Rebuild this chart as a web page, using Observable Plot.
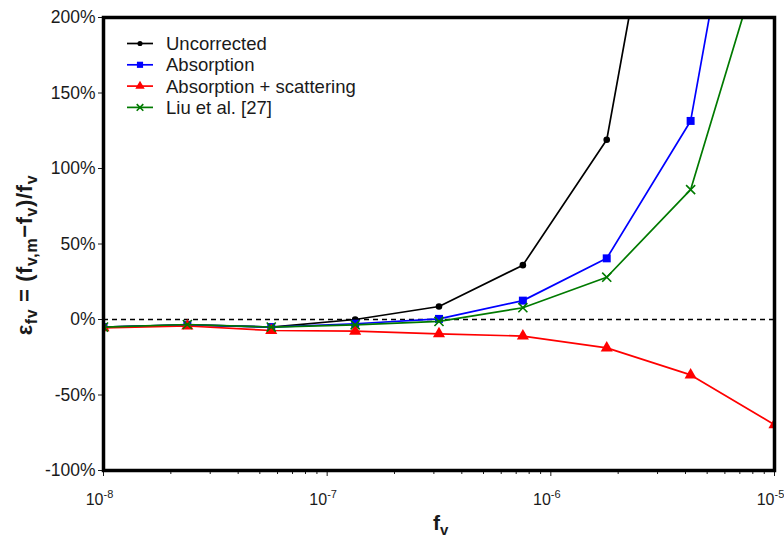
<!DOCTYPE html>
<html>
<head>
<meta charset="utf-8">
<script src="https://cdn.jsdelivr.net/npm/d3@7"></script>
<script src="https://cdn.jsdelivr.net/npm/@observablehq/plot@0.6"></script>
<style>
  html, body { margin: 0; padding: 0; background: #fff; }
  #chart { width: 784px; height: 538px; }
</style>
</head>
<body>
<div id="chart"></div>
<script>
// ---- data ----
const fv = [1e-8, 2.371e-8, 5.623e-8, 1.334e-7, 3.162e-7, 7.499e-7, 1.778e-6, 4.217e-6, 1e-5];
const uncorrected   = [-5.0, -3.5, -5.0, 0.0, 8.6, 36.0, 119.0, 425.0, 1100.0];
const absorption    = [-5.0, -3.5, -5.0, -2.8, 0.4, 12.5, 40.5, 131.5, 440.0];
const absScattering = [-5.5, -4.3, -7.3, -7.7, -9.5, -11.0, -18.8, -36.7, -69.7];
const liu           = [-5.0, -3.3, -5.0, -3.5, -1.3, 7.8, 28.0, 86.0, 270.0];
const seriesNames = ["Uncorrected", "Absorption", "Absorption + scattering", "Liu et al. [27]"];
const yTicks = [-100, -50, 0, 50, 100, 150, 200];
const xMajorTicks = [1e-8, 1e-7, 1e-6, 1e-5];
const xMajorExponents = ["-8", "-7", "-6", "-5"];
const xMinorTicks = [2e-8,3e-8,4e-8,5e-8,6e-8,7e-8,8e-8,9e-8,
                     2e-7,3e-7,4e-7,5e-7,6e-7,7e-7,8e-7,9e-7,
                     2e-6,3e-6,4e-6,5e-6,6e-6,7e-6,8e-6,9e-6];

// ---- styles ----
const FONT = "'Liberation Sans', Arial, sans-serif";
const styles = [
  {color: "#000000", symbol: "circle",   r: 3.3, filled: true},
  {color: "#0000ff", symbol: "square",   r: 4.5, filled: true},
  {color: "#ff0000", symbol: "triangle", r: 4.5, filled: true},
  {color: "#007a00", symbol: "times",    r: 4.2, filled: false}
];
const valuesBySeries = [uncorrected, absorption, absScattering, liu];

const marks = [Plot.ruleY([0], {stroke: "#000", strokeWidth: 1.6, strokeDasharray: "5,4"})];
valuesBySeries.forEach((vals, i) => {
  const rows = fv.map((x, j) => ({x, y: vals[j]}));
  const s = styles[i];
  marks.push(Plot.line(rows, {x: "x", y: "y", stroke: s.color, strokeWidth: 1.7, clip: true}));
  marks.push(Plot.dot(rows, s.filled
    ? {x: "x", y: "y", symbol: () => s.symbol, fill: s.color, stroke: "none", r: s.r, clip: true}
    : {x: "x", y: "y", symbol: () => s.symbol, stroke: s.color, strokeWidth: 1.6, fill: "none", r: s.r, clip: true}));
});
marks.push(Plot.axisY({ticks: yTicks, tickFormat: d => d + "%", tickSize: 5, tickPadding: 3, label: null, fontSize: 17.5}));
marks.push(Plot.axisX({ticks: xMinorTicks, tickFormat: () => null, tickSize: 4, label: null}));
marks.push(Plot.axisX({ticks: xMajorTicks, tickFormat: () => null, tickSize: 6, label: null}));
// x tick labels "10" + superscript exponent, through the x scale
marks.push(Plot.text(xMajorTicks, {x: d => d, frameAnchor: "bottom", text: () => "10",
  textAnchor: "end", lineAnchor: "bottom", dx: 0, dy: 34, fontSize: 16, fill: "#1a1a1a"}));
marks.push(Plot.text(xMajorTicks, {x: d => d, frameAnchor: "bottom", text: (d, i) => xMajorExponents[i],
  textAnchor: "start", lineAnchor: "bottom", dx: 0, dy: 27, fontSize: 11, fill: "#1a1a1a"}));
marks.push(Plot.frame({stroke: "#000", strokeWidth: 3.5}));

const chart = Plot.plot({
  width: 784, height: 538,
  marginLeft: 103, marginRight: 10, marginTop: 17, marginBottom: 68,
  style: {fontFamily: FONT, fontSize: "16px", color: "#1a1a1a", background: "#fff"},
  x: {type: "log", domain: [1e-8, 1e-5]},
  y: {domain: [-100, 200]},
  marks
});
document.getElementById("chart").appendChild(chart);

const svg = d3.select(chart);
svg.selectAll("text").filter(function() { return !this.textContent; }).remove();

// rich text with subscripts (no empty spacer tspans)
function rich(sel, parts, base, small, shift) {
  let pending = 0;
  parts.forEach(([txt, kind]) => {
    const sub = kind === "sub";
    const dy = (sub ? shift : 0) - pending;
    const ts = sel.append("tspan").attr("font-size", sub ? small : base).text(txt);
    if (dy) ts.attr("dy", dy);
    pending = sub ? shift : 0;
  });
}

// y-axis title
const yl = svg.append("text")
  .attr("transform", "translate(32,255) rotate(-90)")
  .attr("text-anchor", "middle")
  .attr("font-weight", "bold")
  .attr("font-family", FONT)
  .attr("letter-spacing", 0.6)
  .attr("fill", "#1a1a1a");
rich(yl, [["\u03b5", "n"], ["fv", "sub"], [" = (f", "n"], ["v,m", "sub"], ["\u2212f", "n"], ["v", "sub"], [")/f", "n"], ["v", "sub"]], 22, 16, 4.5);

// x-axis title
const xl = svg.append("text")
  .attr("x", 433).attr("y", 530)
  .attr("text-anchor", "start")
  .attr("font-weight", "bold")
  .attr("font-family", FONT)
  .attr("fill", "#1a1a1a");
rich(xl, [["f", "n"], ["v", "sub"]], 21, 15, 5);

// legend
const lg = svg.append("g").attr("font-family", FONT).attr("font-size", 18.5).attr("text-anchor", "start");
seriesNames.forEach((name, i) => {
  const y = 43.5 + i * 21.3;
  const s = styles[i];
  lg.append("line").attr("x1", 127).attr("x2", 153).attr("y1", y).attr("y2", y)
    .attr("stroke", s.color).attr("stroke-width", 1.7);
  const sym = {circle: d3.symbolCircle, square: d3.symbolSquare, triangle: d3.symbolTriangle, times: d3.symbolTimes}[s.symbol];
  lg.append("path").attr("transform", `translate(140,${y})`)
    .attr("d", d3.symbol(sym, s.filled ? Math.PI * s.r * s.r * 0.6 : 30)())
    .attr("fill", s.filled ? s.color : "none")
    .attr("stroke", s.filled ? "none" : s.color).attr("stroke-width", 1.6);
  lg.append("text").attr("x", 166).attr("y", y).attr("dy", "0.35em").attr("fill", "#1a1a1a").text(name);
});
</script>
</body>
</html>
